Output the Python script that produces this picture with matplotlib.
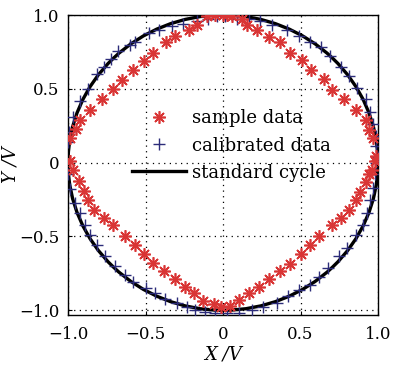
import matplotlib
matplotlib.use("Agg")
import matplotlib.pyplot as plt
from matplotlib.patches import Circle
from matplotlib.lines import Line2D

# sample data (red asterisks)
sample_x = [0.00, -0.05, -0.105, -0.17, -0.22, -0.31, -0.37, -0.45, -0.51, -0.58, -0.65, -0.71,
            -0.78, -0.86, -0.92, -0.95, -0.985, -0.99,
            -0.966, -0.93, -0.90, -0.87, -0.83, -0.77, -0.71, -0.63, -0.57, -0.51, -0.45, -0.38,
            -0.31, -0.245, -0.19, -0.127, -0.06, -0.01,
            0.045, 0.10, 0.165, 0.23, 0.295, 0.37, 0.43, 0.50, 0.56, 0.62, 0.70, 0.76, 0.81,
            0.855, 0.885, 0.92, 0.94, 0.96, 0.98,
            0.99, 0.97, 0.94, 0.92, 0.855, 0.78, 0.70, 0.65, 0.57, 0.51, 0.43, 0.37, 0.295,
            0.22, 0.155, 0.12, 0.055, 0.026]
sample_y = [1.00, 1.00, 0.99, 0.935, 0.90, 0.86, 0.82, 0.74, 0.69, 0.63, 0.56, 0.50,
            0.43, 0.36, 0.29, 0.23, 0.17, 0.01,
            -0.047, -0.127, -0.195, -0.25, -0.32, -0.375, -0.42, -0.495, -0.56, -0.62, -0.68, -0.737,
            -0.79, -0.84, -0.885, -0.94, -0.96, -0.975,
            -0.97, -0.93, -0.885, -0.84, -0.79, -0.735, -0.685, -0.617, -0.56, -0.495, -0.42, -0.375, -0.32,
            -0.255, -0.20, -0.133, -0.08, -0.047, 0.01,
            0.043, 0.167, 0.224, 0.29, 0.36, 0.43, 0.495, 0.57, 0.63, 0.695, 0.74, 0.815, 0.85,
            0.90, 0.935, 0.97, 0.99, 1.00]

# calibrated data (blue plus)
calib_x = [-0.04, -0.095, -0.17, -0.26, -0.33, -0.41, -0.48, -0.57, -0.60, -0.675, -0.72, -0.77,
           -0.815, -0.87, -0.92, -0.966, -0.995, -1.0,
           -1.0, -0.99, -0.955, -0.92, -0.89, -0.86, -0.815, -0.76, -0.70, -0.63, -0.58, -0.50,
           -0.44, -0.375, -0.30, -0.235, -0.18, -0.115, -0.05,
           0.026, 0.10, 0.19, 0.26, 0.35, 0.42, 0.49, 0.56, 0.62, 0.68, 0.75, 0.80, 0.855,
           0.90, 0.93, 0.95, 0.97, 0.98, 0.99,
           1.0, 0.99, 0.99, 0.97, 0.95, 0.92, 0.865, 0.81, 0.76, 0.69, 0.63, 0.56, 0.49,
           0.41, 0.315, 0.24, 0.165, 0.09, 0.015]
calib_y = [0.99, 0.975, 0.96, 0.94, 0.925, 0.90, 0.875, 0.82, 0.80, 0.755, 0.70, 0.65,
           0.60, 0.50, 0.42, 0.31, 0.21, 0.14,
           -0.08, -0.18, -0.27, -0.34, -0.42, -0.49, -0.56, -0.635, -0.70, -0.76, -0.805, -0.85,
           -0.885, -0.925, -0.95, -0.975, -0.995, -1.01, -1.02,
           -1.02, -1.02, -1.0, -0.975, -0.95, -0.905, -0.865, -0.83, -0.775, -0.715, -0.635, -0.58, -0.49,
           -0.42, -0.34, -0.25, -0.17, -0.08, 0.0,
           0.04, 0.11, 0.18, 0.26, 0.34, 0.43, 0.505, 0.585, 0.65, 0.72, 0.78, 0.82, 0.86,
           0.90, 0.935, 0.96, 0.97, 0.975, 0.99]

circle_radius = 1.0
ticks = [-1.0, -0.5, 0.0, 0.5, 1.0]
tick_labels = ["\u22121.0", "\u22120.5", "0", "0.5", "1.0"]
legend_labels = ["sample data", "calibrated data", "standard cycle"]

plt.rcParams['font.family'] = ['DejaVu Serif']
plt.rcParams['mathtext.fontset'] = 'dejavuserif'

RED = '#d93535'
BLUE = '#2c2c7a'

fig = plt.figure(figsize=(3.94, 3.69), dpi=100)
ax = fig.add_axes([0.1726, 0.1463, 0.7868, 0.813])

ax.add_patch(Circle((0, 0), circle_radius, fill=False, edgecolor='black', linewidth=2.4, zorder=2))
ax.plot(calib_x, calib_y, linestyle='none', marker='+', markersize=9, markeredgewidth=1.0,
        color=BLUE, zorder=3)
ax.plot(sample_x, sample_y, linestyle='none', marker=(8, 2, 0), markersize=9, markeredgewidth=1.2,
        color=RED, zorder=4)

ax.set_xlim(-1.0, 1.0)
ax.set_ylim(-1.032, 1.0)
ax.set_xticks(ticks)
ax.set_yticks(ticks)
ax.set_xticklabels(tick_labels, fontsize=12)
ax.set_yticklabels(tick_labels, fontsize=12)
ax.tick_params(direction='in', length=3, width=0.8)
ax.tick_params(axis='x', pad=8)
ax.tick_params(axis='y', pad=6)
ax.grid(True, linestyle=(0, (1, 3.5)), color='black', linewidth=0.9)
for s in ax.spines.values():
    s.set_linewidth(1.0)

ax.set_xlabel("X /V", fontsize=13, style='italic', labelpad=2)
ax.set_ylabel("Y /V", fontsize=13, style='italic', labelpad=0)

handles = [
    Line2D([], [], linestyle='none', marker=(8, 2, 0), markersize=9, markeredgewidth=1.2, color=RED),
    Line2D([], [], linestyle='none', marker='+', markersize=9, markeredgewidth=1.0, color=BLUE),
    Line2D([], [], color='black', linewidth=2.4),
]
leg = ax.legend(handles, legend_labels, loc='center', bbox_to_anchor=(0.528, 0.565),
                frameon=False, fontsize=13, handlelength=3.0, handletextpad=0.35,
                labelspacing=0.5)

fig.savefig("out.png", dpi=100)
